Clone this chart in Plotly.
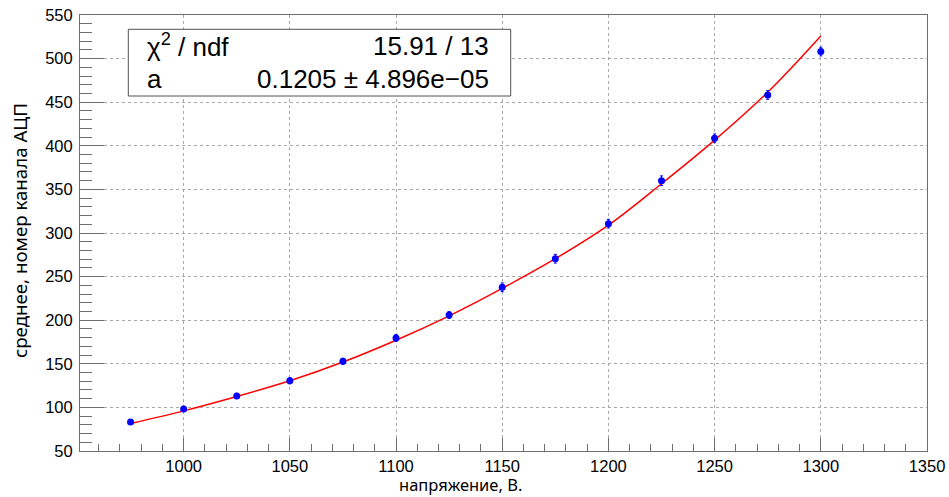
import plotly.graph_objects as go

# measured points
voltage = [975, 1000, 1025, 1050, 1075, 1100, 1125, 1150, 1175, 1200, 1225, 1250, 1275, 1300]
mean_ch = [83.3, 98.2, 113.1, 130.6, 152.8, 179.6, 206.0, 237.7, 270.5, 310.7, 360.0, 408.6, 458.3, 508.1]
mean_err = [2.5, 3.0, 3.0, 3.5, 3.5, 4.0, 4.0, 5.0, 5.0, 5.0, 5.5, 5.0, 5.0, 5.0]

# fit curve
fit_x = [975, 1000, 1025, 1050, 1075, 1100, 1125, 1150, 1175, 1200, 1225, 1250, 1275, 1300]
fit_y = [81.5, 96.0, 112.5, 130.5, 152.0, 177.0, 205.0, 236.5, 270.5, 309.0, 356.5, 406.5, 461.5, 526.0]

stat_labels = ["χ<sup>2</sup> / ndf", "a"]
stat_values = ["15.91 / 13", "0.1205 ± 4.896e−05"]

x_title = "напряжение, В."
y_title = "среднее, номер канала АЦП"

W, H = 949, 497
L, R, T, B = 80, 927, 15, 451

def px(x):
    return (x - L) / (R - L)

def py(y):
    return (B - y) / (B - T)

fig = go.Figure()
fig.add_trace(go.Scatter(x=fit_x, y=fit_y, mode="lines",
                         line=dict(color="#ff0000", width=1.5, shape="spline", smoothing=1.0),
                         hoverinfo="skip", showlegend=False))
fig.add_trace(go.Scatter(x=voltage, y=mean_ch, mode="markers",
                         marker=dict(color="#0000ff", size=7),
                         error_y=dict(type="data", array=mean_err, color="#0000ff",
                                      thickness=1, width=1.5),
                         showlegend=False))

tickfont = dict(family="Liberation Sans, Arial, sans-serif", size=16.5, color="black")
frame = "#6e6e6e"
fig.update_xaxes(range=[951.2, 1350], tick0=1000, dtick=50, ticks="inside", ticklen=13,
                 tickcolor=frame, showline=True, linecolor=frame, linewidth=1, mirror=True,
                 showgrid=True, gridcolor="#a8a8a8", griddash="dot", gridwidth=1,
                 zeroline=False, tickfont=tickfont, automargin=False,
                 minor=dict(dtick=10, ticks="inside", ticklen=7, tickcolor=frame, showgrid=False))
fig.update_yaxes(range=[50, 550], tick0=50, dtick=50, ticks="inside", ticklen=24,
                 tickcolor=frame, showline=True, linecolor=frame, linewidth=1, mirror=True,
                 showgrid=True, gridcolor="#a8a8a8", griddash="dot", gridwidth=1,
                 zeroline=False, tickfont=tickfont, ticklabelstandoff=3, automargin=False,
                 minor=dict(dtick=10, ticks="inside", ticklen=12, tickcolor=frame, showgrid=False))

# stats box
fig.add_shape(type="rect", xref="paper", yref="paper",
              x0=px(128.3), x1=px(510.7), y0=py(96.0), y1=py(29.3),
              line=dict(color="#505050", width=1), fillcolor="white", layer="above")
statfont = dict(family="Liberation Sans, Arial, sans-serif", size=26, color="black")
rows_y = [45.5, 79.0]
for lab, val, yy in zip(stat_labels, stat_values, rows_y):
    fig.add_annotation(xref="paper", yref="paper", x=px(144.5), y=py(yy), text=lab,
                       xanchor="left", yanchor="middle", showarrow=False, font=statfont)
    fig.add_annotation(xref="paper", yref="paper", x=px(490.5), y=py(yy), text=val,
                       xanchor="right", yanchor="middle", showarrow=False, font=statfont)

fig.add_annotation(xref="paper", yref="paper", x=px(460), y=py(484.5), text=x_title,
                   xanchor="center", yanchor="middle", showarrow=False,
                   font=dict(family="Noto Sans, Open Sans, sans-serif", size=16.5, color="black"))
fig.add_annotation(xref="paper", yref="paper", x=px(19), y=py(231), text=y_title,
                   textangle=-90, xanchor="center", yanchor="middle", showarrow=False,
                   font=dict(family="Noto Sans, Open Sans, sans-serif", size=18.7, color="black"))

fig.update_layout(width=W, height=H, plot_bgcolor="white", paper_bgcolor="white",
                  margin=dict(l=L, r=W - R, t=T, b=H - B, pad=0, autoexpand=False),
                  showlegend=False)

fig.write_html("out.html", config={"displayModeBar": False},
               post_script="document.body.style.margin='0';document.body.style.overflow='hidden';")
